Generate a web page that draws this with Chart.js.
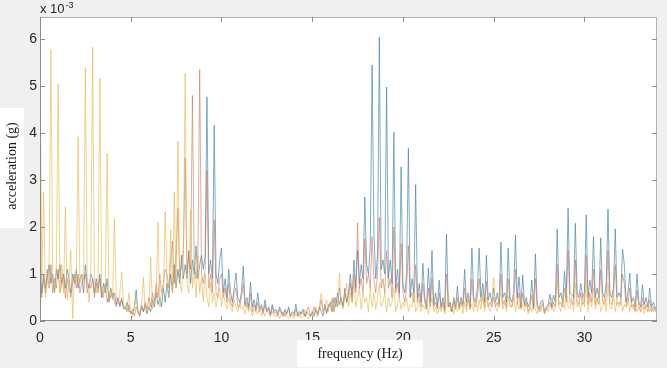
<!DOCTYPE html>
<html>
<head>
<meta charset="utf-8">
<script src="https://cdn.jsdelivr.net/npm/chart.js@4/dist/chart.umd.min.js"></script>
<style>
  html, body { margin: 0; padding: 0; background: #f0f0f0; }
  canvas { display: block; }
</style>
</head>
<body>
<canvas id="chart" width="667" height="368"></canvas>
<script>
// spectra sampled every 0.1 Hz, one row per Hz, amplitude in units of 1e-3 g
const FREQ_STEP = 0.1;

const blueRows = [
  [1.3, 0.6, 1.0, 0.7, 0.9, 1.2, 0.8, 1.0, 0.6, 1.1],
  [0.9, 1.2, 0.8, 1.0, 0.7, 1.1, 0.9, 0.6, 1.0, 0.8],
  [1.1, 0.7, 0.9, 1.0, 0.6, 1.2, 0.8, 0.7, 1.0, 0.9],
  [0.6, 0.9, 0.7, 1.0, 0.5, 0.8, 0.6, 0.9, 0.4, 0.7],
  [0.5, 0.6, 0.35, 0.5, 0.3, 0.45, 0.3, 0.25, 0.4, 0.2],
  [0.2, 0.15, 0.3, 0.66, 0.2, 0.1, 0.3, 0.2, 0.35, 0.15],
  [0.3, 0.2, 0.45, 0.3, 0.6, 0.35, 0.5, 0.3, 0.7, 0.4],
  [0.8, 0.5, 1.0, 0.6, 1.2, 0.7, 1.1, 0.8, 1.4, 0.9],
  [1.2, 0.9, 1.5, 0.8, 1.3, 1.0, 1.6, 0.9, 1.2, 1.4],
  [1.1, 1.4, 4.77, 1.0, 1.3, 0.9, 4.17, 1.0, 0.8, 1.3],
  [1.55, 0.6, 0.9, 0.5, 1.1, 0.6, 0.4, 0.7, 1.02, 0.5],
  [0.4, 0.6, 1.17, 0.35, 0.5, 0.3, 0.83, 0.3, 0.45, 0.25],
  [0.6, 0.25, 0.35, 0.2, 0.45, 0.2, 0.3, 0.15, 0.35, 0.2],
  [0.25, 0.15, 0.3, 0.2, 0.1, 0.25, 0.15, 0.3, 0.1, 0.2],
  [0.15, 0.36, 0.1, 0.2, 0.15, 0.25, 0.1, 0.2, 0.15, 0.1],
  [0.2, 0.1, 0.25, 0.15, 0.3, 0.2, 0.1, 0.35, 0.2, 0.3],
  [0.4, 0.2, 0.5, 0.3, 0.6, 0.35, 0.5, 0.3, 0.7, 0.4],
  [0.6, 1.0, 0.5, 1.3, 0.7, 1.5, 0.8, 1.2, 0.9, 2.64],
  [1.2, 1.0, 1.6, 5.45, 1.9, 0.9, 1.4, 6.04, 1.1, 1.3],
  [1.0, 4.98, 0.9, 1.3, 0.8, 4.02, 0.7, 1.1, 0.6, 3.28],
  [0.8, 0.6, 1.0, 3.68, 0.5, 0.9, 0.6, 2.9, 0.5, 0.8],
  [0.4, 1.23, 0.5, 0.3, 1.13, 0.4, 1.5, 0.35, 0.6, 0.3],
  [0.87, 0.3, 0.5, 0.25, 1.85, 0.3, 0.4, 0.2, 0.5, 0.3],
  [0.74, 0.3, 0.5, 0.35, 1.1, 0.4, 0.6, 0.3, 1.55, 0.5],
  [0.4, 0.7, 1.55, 0.5, 0.8, 0.4, 1.4, 0.45, 0.6, 0.4],
  [0.7, 0.4, 0.6, 0.35, 1.68, 0.5, 0.6, 0.4, 1.55, 0.5],
  [0.4, 0.6, 1.83, 0.5, 0.94, 0.3, 0.98, 0.35, 0.5, 0.3],
  [0.4, 0.87, 0.3, 1.43, 0.35, 0.25, 0.4, 0.45, 0.2, 0.3],
  [0.35, 0.57, 0.3, 0.55, 0.4, 1.96, 0.5, 0.6, 0.4, 1.06],
  [0.5, 2.4, 0.6, 0.57, 0.5, 2.08, 0.6, 0.5, 0.8, 0.5],
  [0.6, 2.26, 0.5, 0.87, 0.6, 1.79, 0.5, 0.7, 0.5, 1.77],
  [0.6, 0.5, 0.8, 2.38, 0.6, 0.5, 0.7, 1.96, 0.5, 0.6],
  [0.5, 1.53, 1.2, 0.4, 0.6, 1.02, 0.4, 0.5, 0.3, 1.0],
  [0.4, 0.3, 0.77, 0.35, 0.5, 0.3, 0.7, 0.3, 0.4, 0.25],
  [0.35]
];

const redRows = [
  [1.0, 0.5, 0.9, 0.6, 1.1, 0.7, 1.2, 0.6, 0.9, 0.7],
  [1.1, 0.6, 0.8, 1.0, 0.5, 0.9, 0.7, 0.5, 0.8, 1.0],
  [0.7, 1.0, 0.6, 0.8, 0.9, 1.0, 0.6, 0.8, 0.7, 0.9],
  [0.5, 0.8, 0.6, 0.9, 0.5, 0.6, 0.8, 0.4, 0.6, 0.5],
  [0.6, 0.4, 0.3, 0.45, 0.35, 0.5, 0.25, 0.3, 0.2, 0.35],
  [0.15, 0.25, 0.1, 0.3, 0.2, 0.15, 0.35, 0.2, 0.4, 0.25],
  [0.5, 0.3, 0.6, 0.4, 0.8, 0.5, 1.0, 0.6, 0.8, 1.1],
  [1.0, 0.7, 1.3, 1.7, 0.8, 1.4, 2.4, 0.9, 1.2, 1.5],
  [3.47, 1.0, 1.4, 1.1, 4.8, 1.2, 0.9, 1.3, 5.35, 1.0],
  [0.8, 1.1, 3.2, 0.7, 1.0, 0.6, 2.15, 0.6, 0.5, 0.9],
  [1.0, 0.5, 0.7, 0.4, 0.8, 0.4, 0.3, 0.6, 0.7, 0.3],
  [0.3, 0.5, 0.8, 0.3, 0.4, 0.25, 0.6, 0.2, 0.35, 0.2],
  [0.4, 0.2, 0.3, 0.15, 0.35, 0.2, 0.25, 0.1, 0.3, 0.15],
  [0.2, 0.1, 0.25, 0.15, 0.2, 0.1, 0.2, 0.25, 0.1, 0.15],
  [0.1, 0.25, 0.15, 0.1, 0.2, 0.15, 0.1, 0.2, 0.3, 0.1],
  [0.15, 0.3, 0.2, 0.1, 0.25, 0.45, 0.2, 0.3, 0.15, 0.35],
  [0.3, 0.45, 0.2, 0.5, 0.3, 0.7, 0.4, 0.35, 0.6, 0.4],
  [0.5, 0.8, 0.4, 1.0, 0.6, 2.09, 0.7, 0.9, 0.6, 1.75],
  [0.8, 1.0, 0.7, 1.8, 0.9, 0.6, 1.0, 2.2, 0.7, 0.9],
  [0.6, 1.5, 0.7, 0.9, 0.5, 2.0, 0.6, 0.8, 0.5, 1.65],
  [0.6, 0.4, 0.7, 1.6, 0.5, 0.6, 0.4, 1.2, 0.4, 0.6],
  [0.3, 0.8, 0.4, 0.25, 0.7, 0.3, 0.9, 0.3, 0.4, 0.25],
  [0.6, 0.25, 0.4, 0.2, 1.0, 0.3, 0.35, 0.2, 0.4, 0.25],
  [0.5, 0.25, 0.4, 0.3, 0.7, 0.3, 0.45, 0.25, 0.9, 0.35],
  [0.3, 0.5, 0.9, 0.4, 0.5, 0.3, 0.85, 0.3, 0.4, 0.3],
  [0.5, 0.3, 0.4, 0.3, 1.0, 0.35, 0.45, 0.3, 0.9, 0.35],
  [0.3, 0.45, 1.1, 0.35, 0.6, 0.25, 0.6, 0.3, 0.4, 0.2],
  [0.3, 0.55, 0.25, 0.9, 0.3, 0.2, 0.3, 0.35, 0.15, 0.25],
  [0.3, 0.4, 0.25, 0.4, 0.3, 1.2, 0.35, 0.4, 0.3, 0.7],
  [0.4, 1.5, 0.4, 0.4, 0.35, 1.3, 0.4, 0.35, 0.6, 0.35],
  [0.4, 1.4, 0.35, 0.6, 0.4, 1.1, 0.35, 0.5, 0.35, 1.1],
  [0.4, 0.35, 0.5, 1.5, 0.4, 0.35, 0.5, 1.2, 0.35, 0.4],
  [0.35, 1.0, 0.8, 0.3, 0.4, 0.7, 0.3, 0.35, 0.2, 0.65],
  [0.3, 0.2, 0.5, 0.25, 0.35, 0.2, 0.45, 0.2, 0.3, 0.2],
  [0.25]
];

const yellowRows = [
  [5.6, 0.9, 2.75, 0.5, 0.8, 1.1, 5.77, 0.9, 0.6, 1.0],
  [5.04, 0.7, 1.2, 0.6, 2.43, 0.45, 0.9, 1.5, 0.05, 1.0],
  [0.85, 3.92, 0.8, 1.0, 0.9, 5.38, 0.95, 0.4, 1.1, 5.83],
  [0.8, 0.6, 0.9, 5.17, 0.7, 0.5, 0.8, 3.57, 0.5, 0.7],
  [0.45, 2.17, 0.5, 0.35, 0.6, 1.04, 0.4, 0.3, 0.25, 0.6],
  [0.2, 0.1, 0.3, 0.5, 0.15, 0.2, 0.35, 0.94, 0.2, 0.15],
  [0.3, 1.36, 0.25, 0.4, 0.5, 2.1, 0.3, 0.6, 0.7, 2.32],
  [0.8, 0.5, 1.94, 0.6, 2.75, 0.7, 3.83, 0.9, 0.6, 1.2],
  [5.28, 0.8, 0.6, 2.36, 0.7, 1.0, 0.5, 1.4, 0.6, 0.9],
  [0.4, 1.0, 0.5, 0.3, 0.8, 0.4, 0.6, 0.3, 0.5, 0.7],
  [0.3, 0.6, 0.4, 0.25, 0.5, 0.3, 0.2, 0.45, 0.3, 0.2],
  [0.4, 0.25, 0.3, 0.15, 0.35, 0.2, 0.3, 0.1, 0.25, 0.2],
  [0.15, 0.3, 0.1, 0.2, 0.1, 0.25, 0.15, 0.1, 0.2, 0.1],
  [0.1, 0.2, 0.05, 0.15, 0.1, 0.2, 0.1, 0.05, 0.15, 0.1],
  [0.05, 0.15, 0.1, 0.2, 0.05, 0.1, 0.25, 0.1, 0.05, 0.15],
  [0.1, 0.2, 0.3, 0.15, 0.35, 0.6, 0.2, 0.3, 0.45, 0.2],
  [0.3, 0.5, 0.2, 0.4, 0.3, 1.02, 0.35, 0.25, 0.5, 0.8],
  [0.3, 0.6, 0.4, 0.9, 0.3, 0.5, 0.7, 0.25, 0.6, 0.4],
  [0.5, 0.2, 0.7, 0.3, 0.6, 0.25, 0.5, 0.8, 0.3, 0.4],
  [0.6, 0.2, 0.5, 0.3, 0.4, 0.7, 0.2, 0.35, 0.5, 0.25],
  [0.4, 0.3, 0.5, 0.2, 0.35, 0.3, 0.6, 0.2, 0.3, 0.45],
  [0.2, 0.35, 0.25, 0.4, 0.15, 0.3, 0.5, 0.2, 0.3, 0.15],
  [0.3, 0.2, 0.4, 0.15, 0.35, 0.6, 0.2, 0.3, 0.15, 0.4],
  [0.2, 0.3, 0.5, 0.15, 0.4, 0.2, 0.6, 0.25, 0.35, 0.2],
  [0.5, 0.2, 0.45, 0.25, 0.6, 0.2, 0.5, 0.3, 0.2, 0.4],
  [0.93, 0.3, 0.2, 0.5, 0.6, 0.25, 0.4, 0.2, 0.55, 0.3],
  [0.3, 0.6, 0.2, 0.4, 0.25, 0.5, 0.3, 0.2, 0.4, 0.15],
  [0.3, 0.2, 0.6, 0.25, 0.15, 0.3, 0.2, 0.4, 0.15, 0.3],
  [0.2, 0.35, 0.5, 0.2, 0.3, 0.9, 0.3, 0.2, 0.5, 0.25],
  [0.7, 0.3, 0.25, 0.5, 0.2, 0.8, 0.3, 0.4, 0.2, 0.6],
  [0.3, 0.9, 0.2, 0.5, 0.3, 0.7, 0.25, 0.4, 0.6, 0.2],
  [0.3, 0.5, 0.2, 0.8, 0.3, 0.25, 0.6, 0.2, 0.4, 0.3],
  [0.5, 0.2, 0.35, 0.3, 0.5, 0.2, 0.4, 0.25, 0.45, 0.2],
  [0.3, 0.2, 0.35, 0.15, 0.3, 0.4, 0.2, 0.3, 0.2, 0.25],
  [0.3]
];

const xTicks = [0, 5, 10, 15, 20, 25, 30];
const yTicks = [0, 1, 2, 3, 4, 5, 6];
const X_MAX = 34;
const Y_MAX = 6.47;

function toPoints(rows) {
  return rows.flat().map((v, i) => ({ x: +(i * FREQ_STEP).toFixed(1), y: v }));
}

const frame = {
  id: 'frame',
  beforeDraw(chart) {
    const { ctx, chartArea: a } = chart;
    ctx.save();
    ctx.fillStyle = '#f0f0f0';
    ctx.fillRect(0, 0, chart.width, chart.height);
    ctx.fillStyle = '#ffffff';
    ctx.fillRect(a.left, a.top, a.right - a.left, a.bottom - a.top);
    ctx.restore();
  },
  afterDraw(chart) {
    const { ctx, chartArea: a, scales } = chart;
    ctx.save();
    ctx.lineWidth = 1;
    // box
    ctx.strokeStyle = '#b4b4b4';
    ctx.beginPath();
    ctx.moveTo(a.left, a.top + 0.5); ctx.lineTo(a.right, a.top + 0.5);
    ctx.moveTo(a.right - 0.5, a.top); ctx.lineTo(a.right - 0.5, a.bottom);
    ctx.stroke();
    ctx.strokeStyle = '#8c8c8c';
    ctx.beginPath();
    ctx.moveTo(a.left + 0.5, a.top); ctx.lineTo(a.left + 0.5, a.bottom);
    ctx.moveTo(a.left, a.bottom - 0.5); ctx.lineTo(a.right, a.bottom - 0.5);
    ctx.stroke();
    // inward ticks
    ctx.strokeStyle = '#8c8c8c';
    ctx.beginPath();
    xTicks.forEach(v => {
      const px = Math.round(scales.x.getPixelForValue(v)) + 0.5;
      ctx.moveTo(px, a.bottom); ctx.lineTo(px, a.bottom - 5);
      ctx.moveTo(px, a.top); ctx.lineTo(px, a.top + 5);
    });
    yTicks.forEach(v => {
      const py = Math.round(scales.y.getPixelForValue(v)) + 0.5;
      ctx.moveTo(a.left, py); ctx.lineTo(a.left + 5, py);
      ctx.moveTo(a.right, py); ctx.lineTo(a.right - 5, py);
    });
    ctx.stroke();

    // exponent label
    ctx.fillStyle = '#262626';
    ctx.textBaseline = 'alphabetic';
    ctx.textAlign = 'left';
    ctx.font = '13px "Liberation Sans", Arial, sans-serif';
    ctx.fillText('x 10', a.left, 13);
    const w = ctx.measureText('x 10').width;
    ctx.font = '9px "Liberation Sans", Arial, sans-serif';
    ctx.fillText('-3', a.left + w + 1, 8);

    // axis titles on white boxes
    ctx.fillStyle = '#ffffff';
    ctx.fillRect(0, 108, 24, 120);
    ctx.fillRect(297, 340, 126, 27);
    ctx.fillStyle = '#1a1a1a';
    ctx.font = '14px "Liberation Serif", "Times New Roman", serif';
    ctx.textAlign = 'center';
    ctx.textBaseline = 'middle';
    ctx.fillText('frequency (Hz)', 360, 354);
    ctx.translate(12, 166);
    ctx.rotate(-Math.PI / 2);
    ctx.fillText('acceleration (g)', 0, 0);
    ctx.restore();
  }
};

const lineStyle = { borderWidth: 1, pointRadius: 0, tension: 0, fill: false };

new Chart(document.getElementById('chart'), {
  type: 'line',
  data: {
    datasets: [
      { ...lineStyle, label: 'blue', data: toPoints(blueRows), borderColor: 'rgba(60,128,170,0.65)', order: 3 },
      { ...lineStyle, label: 'red', data: toPoints(redRows), borderColor: 'rgba(200,105,70,0.55)', order: 2 },
      { ...lineStyle, label: 'yellow', data: toPoints(yellowRows), borderColor: 'rgba(230,180,70,0.6)', order: 1 }
    ]
  },
  options: {
    responsive: false,
    animation: false,
    devicePixelRatio: 1,
    layout: { padding: { left: 0, right: 10, top: 17, bottom: 0 } },
    plugins: { legend: { display: false }, tooltip: { enabled: false } },
    scales: {
      x: {
        type: 'linear',
        min: 0,
        max: X_MAX,
        grid: { display: false, drawTicks: false },
        border: { display: false },
        afterBuildTicks: s => { s.ticks = xTicks.map(v => ({ value: v })); },
        afterFit: s => { s.height = 47; },
        ticks: {
          padding: 9,
          maxRotation: 0,
          color: '#262626',
          font: { family: '"Liberation Sans", Arial, sans-serif', size: 14 }
        }
      },
      y: {
        min: 0,
        max: Y_MAX,
        grid: { display: false, drawTicks: false },
        border: { display: false },
        afterBuildTicks: s => { s.ticks = yTicks.map(v => ({ value: v })); },
        afterFit: s => { s.width = 40; },
        ticks: {
          padding: 3,
          color: '#262626',
          font: { family: '"Liberation Sans", Arial, sans-serif', size: 14 }
        }
      }
    }
  },
  plugins: [frame]
});
</script>
</body>
</html>
